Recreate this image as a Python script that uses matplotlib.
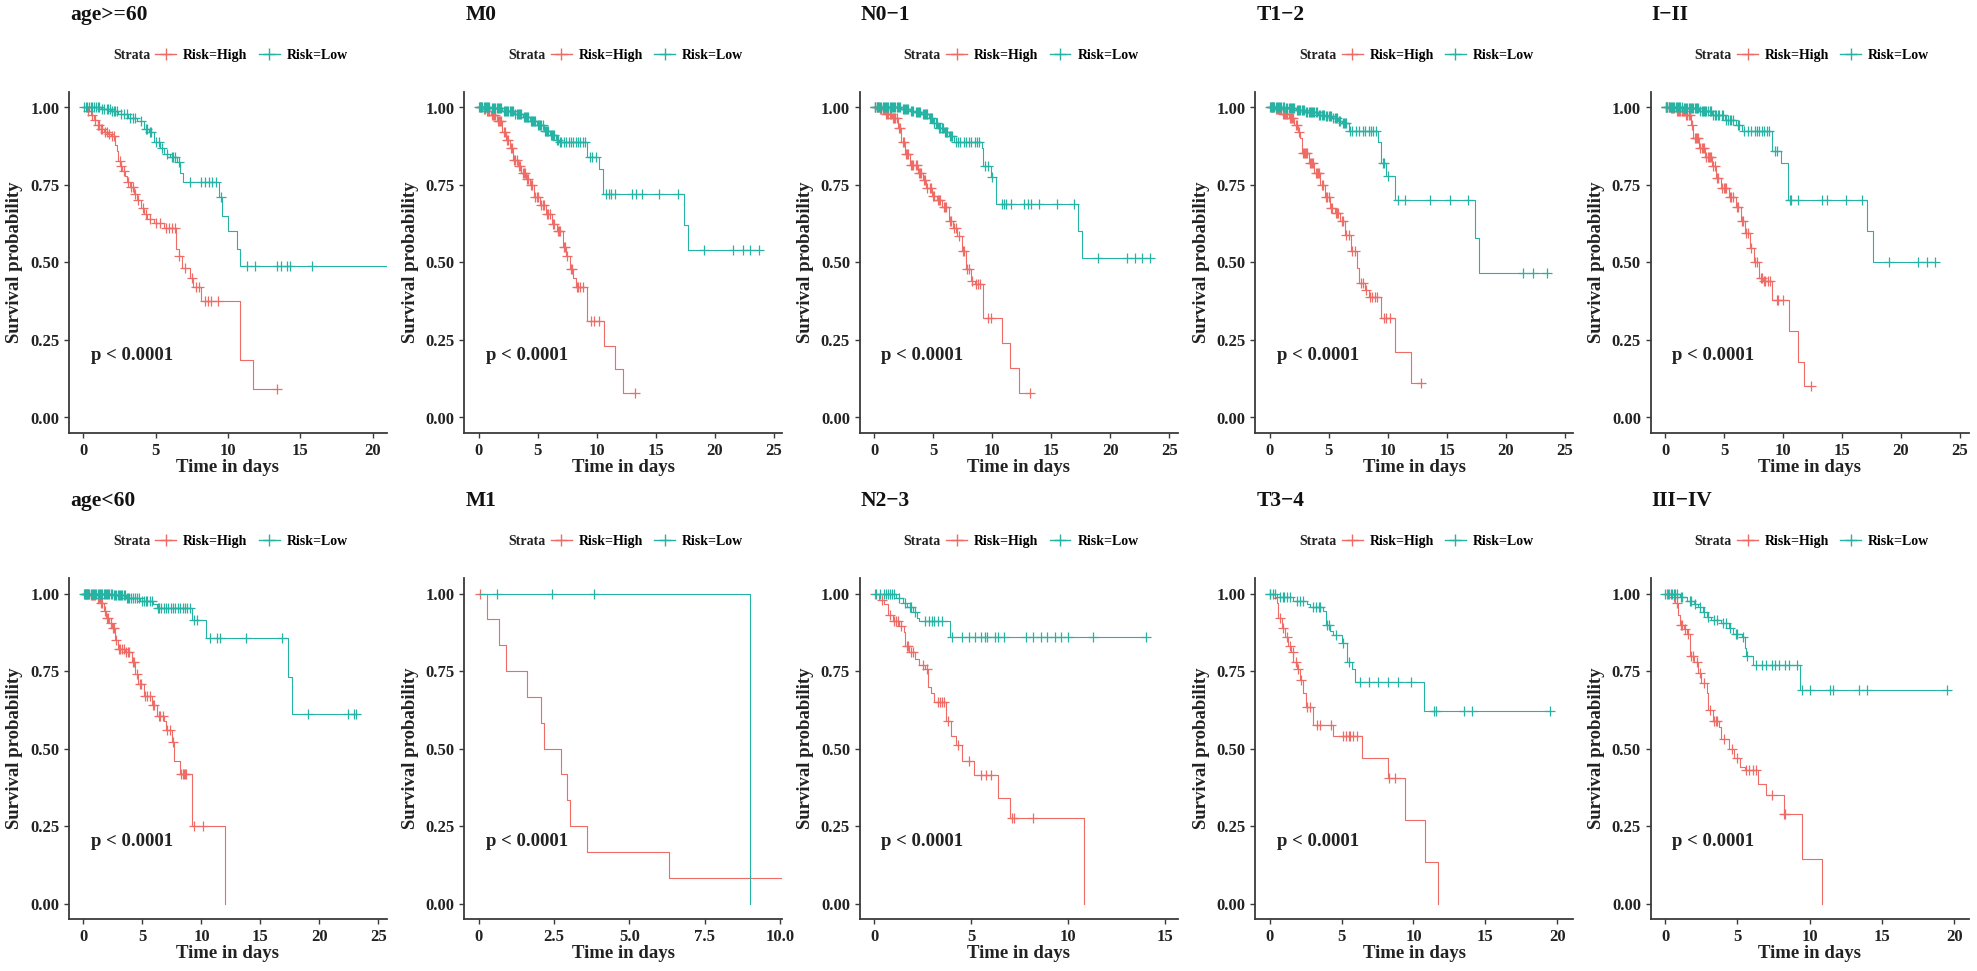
import numpy as np
import matplotlib
matplotlib.use("Agg")
import matplotlib.pyplot as plt
from matplotlib.lines import Line2D
from matplotlib.transforms import blended_transform_factory

plt.rcParams["font.family"] = ["Liberation Serif", "DejaVu Serif"]
plt.rcParams["font.weight"] = "bold"

RED = "#EF6B65"
TEAL = "#27B3A3"

# ---- age>=60
age60_hi_t = [0.3, 0.5, 0.7, 1.0, 1.2, 1.4, 1.7, 1.9, 2.2, 2.3, 2.4, 2.55, 2.7, 2.85, 3.0, 3.2, 3.5, 3.7, 4.0, 4.2,
              4.4, 4.9, 5.6, 6.4, 6.6, 6.8, 7.4, 7.6, 8.1, 10.8, 11.7]
age60_hi_s = [0.99, 0.976, 0.96, 0.944, 0.93, 0.92, 0.915, 0.907, 0.88, 0.86, 0.826, 0.81, 0.794, 0.78, 0.76, 0.745,
              0.72, 0.70, 0.676, 0.655, 0.64, 0.628, 0.61, 0.545, 0.52, 0.483, 0.45, 0.42, 0.375, 0.186, 0.093]
age60_hi_end = 13.4
age60_hi_c = [0.3, 0.6, 0.8, 1.0, 1.1, 1.2, 1.3, 1.5, 1.6, 1.8, 2.0, 2.1, 2.5, 2.6, 2.8, 3.1, 3.3, 3.4, 3.6, 3.8,
              4.1, 4.3, 4.6, 5.0, 5.3, 5.7, 5.9, 6.1, 6.3, 6.6, 7.0, 7.5, 7.8, 8.0, 8.4, 8.6, 8.8, 9.3, 13.4]
age60_lo_t = [1.2, 1.9, 2.4, 3.1, 3.7, 4.2, 4.5, 4.9, 5.3, 5.6, 6.0, 6.5, 6.7, 6.9, 9.4, 9.6, 10.0, 10.6, 10.8]
age60_lo_s = [0.995, 0.99, 0.98, 0.965, 0.957, 0.93, 0.92, 0.89, 0.87, 0.85, 0.84, 0.825, 0.79, 0.76, 0.71, 0.65,
              0.60, 0.545, 0.49]
age60_lo_end = 21.0
age60_lo_c = [0.05, 0.15, 0.25, 0.4, 0.5, 0.6, 0.75, 0.9, 1.0, 1.1, 1.3, 1.45, 1.6, 1.7, 1.85, 2.0, 2.1, 2.2, 2.3,
              2.6, 2.8, 3.0, 3.2, 3.4, 3.6, 4.0, 4.3, 4.4, 4.6, 4.7, 5.0, 5.2, 5.4, 5.8, 6.1, 6.2, 6.3, 6.6, 7.4,
              8.1, 8.4, 8.7, 8.9, 9.2, 9.5, 11.3, 11.9, 13.4, 13.7, 14.1, 14.3, 15.8]

# ---- M0
m0_hi_t = [0.3, 0.6, 1.0, 1.5, 2.0, 2.3, 2.6, 2.9, 3.3, 3.6, 4.0, 4.3, 4.7, 5.2, 5.7, 6.2, 6.6, 7.1, 7.4, 7.7,
           8.0, 8.2, 9.2, 10.6, 11.5, 12.2]
m0_hi_s = [0.995, 0.99, 0.975, 0.955, 0.92, 0.895, 0.87, 0.83, 0.81, 0.79, 0.77, 0.75, 0.71, 0.685, 0.655, 0.625,
           0.60, 0.55, 0.52, 0.48, 0.45, 0.42, 0.31, 0.23, 0.155, 0.08]
m0_hi_end = 13.2
m0_hi_c = [0.1, 0.2, 0.4, 0.5, 0.7, 0.8, 0.9, 1.1, 1.2, 1.3, 1.4, 1.6, 1.7, 1.8, 1.9, 2.1, 2.2, 2.4, 2.5, 2.7, 2.8,
           3.0, 3.1, 3.2, 3.4, 3.5, 3.7, 3.8, 3.9, 4.1, 4.2, 4.4, 4.5, 4.8, 4.9, 5.0, 5.3, 5.4, 5.5, 5.8, 5.9, 6.0,
           6.3, 6.4, 6.7, 6.8, 6.9, 7.2, 7.3, 7.5, 7.8, 7.9, 8.3, 8.4, 8.6, 8.8, 9.5, 9.8, 10.2, 13.2]
m0_lo_t = [1.0, 2.0, 3.0, 3.7, 4.3, 4.9, 5.5, 6.0, 6.5, 6.8, 9.2, 10.2, 10.5, 17.4, 17.7]
m0_lo_s = [0.997, 0.99, 0.98, 0.97, 0.955, 0.945, 0.925, 0.91, 0.895, 0.89, 0.84, 0.80, 0.72, 0.62, 0.54]
m0_lo_end = 23.7
m0_lo_c = [0.05, 0.1, 0.2, 0.3, 0.4, 0.5, 0.6, 0.7, 0.8, 0.9, 1.1, 1.2, 1.3, 1.4, 1.5, 1.6, 1.7, 1.8, 1.9, 2.1,
           2.2, 2.3, 2.4, 2.5, 2.6, 2.7, 2.8, 2.9, 3.1, 3.2, 3.3, 3.4, 3.5, 3.6, 3.8, 3.9, 4.0, 4.1, 4.2, 4.4, 4.5,
           4.6, 4.7, 4.8, 5.0, 5.1, 5.2, 5.3, 5.4, 5.6, 5.7, 5.8, 5.9, 6.1, 6.2, 6.3, 6.4, 6.6, 6.7, 6.9, 7.0, 7.2,
           7.4, 7.6, 7.8, 8.0, 8.2, 8.4, 8.6, 8.8, 9.0, 9.4, 9.6, 9.9, 10.8, 11.0, 11.2, 11.5, 13.0, 13.3, 13.8,
           15.3, 16.9, 19.1, 21.5, 22.4, 23.0, 23.7]

# ---- N0-1
n01_hi_t = [0.4, 0.9, 1.5, 2.0, 2.3, 2.6, 3.0, 3.7, 4.1, 4.4, 4.9, 5.3, 5.7, 6.3, 6.7, 7.0, 7.4, 7.8, 8.2, 8.5,
            9.2, 10.8, 11.5, 12.3]
n01_hi_s = [0.995, 0.98, 0.966, 0.934, 0.89, 0.85, 0.815, 0.79, 0.765, 0.74, 0.714, 0.70, 0.68, 0.633, 0.61, 0.585,
            0.537, 0.478, 0.44, 0.43, 0.32, 0.24, 0.16, 0.08]
n01_hi_end = 13.2
n01_hi_c = [0.1, 0.2, 0.3, 0.5, 0.6, 0.7, 0.8, 1.0, 1.1, 1.2, 1.3, 1.4, 1.6, 1.7, 1.8, 1.9, 2.1, 2.2, 2.4, 2.5,
            2.7, 2.8, 2.9, 3.1, 3.2, 3.3, 3.5, 3.6, 3.8, 3.9, 4.0, 4.2, 4.3, 4.5, 4.7, 4.8, 5.0, 5.1, 5.4, 5.5, 5.6,
            5.9, 6.0, 6.1, 6.4, 6.5, 6.8, 6.9, 7.2, 7.5, 7.6, 7.9, 8.0, 8.3, 8.6, 8.8, 9.0, 9.6, 9.9, 13.2]
n01_lo_t = [2.3, 3.0, 3.4, 4.0, 4.6, 5.0, 5.4, 5.9, 6.3, 6.8, 9.1, 9.2, 9.9, 10.3, 17.3, 17.6]
n01_lo_s = [0.995, 0.99, 0.987, 0.978, 0.966, 0.95, 0.934, 0.92, 0.907, 0.89, 0.87, 0.81, 0.775, 0.69, 0.60, 0.515]
n01_lo_end = 23.4
n01_lo_c = [0.05, 0.1, 0.2, 0.3, 0.4, 0.5, 0.6, 0.7, 0.8, 0.9, 1.0, 1.1, 1.2, 1.3, 1.4, 1.5, 1.6, 1.7, 1.8, 1.9,
            2.0, 2.1, 2.2, 2.4, 2.5, 2.6, 2.7, 2.8, 2.9, 3.1, 3.2, 3.3, 3.5, 3.6, 3.7, 3.8, 3.9, 4.1, 4.2, 4.3, 4.4,
            4.5, 4.7, 4.8, 4.9, 5.1, 5.2, 5.3, 5.5, 5.6, 5.7, 5.8, 6.0, 6.1, 6.2, 6.4, 6.5, 6.6, 6.9, 7.1, 7.3, 7.6,
            7.8, 8.0, 8.2, 8.5, 8.7, 8.9, 9.4, 9.6, 10.0, 10.8, 11.0, 11.2, 11.6, 12.7, 13.0, 13.3, 14.0, 15.5,
            16.9, 19.0, 21.4, 22.1, 22.7, 23.4]

# ---- T1-2
t12_hi_t = [0.4, 1.0, 1.6, 2.1, 2.4, 2.6, 2.7, 3.3, 3.8, 4.3, 4.7, 5.1, 5.5, 6.0, 6.4, 6.9, 7.4, 7.6, 8.1, 8.4,
            9.4, 10.6, 12.0]
t12_hi_s = [0.995, 0.98, 0.966, 0.944, 0.92, 0.90, 0.853, 0.82, 0.79, 0.75, 0.71, 0.676, 0.66, 0.633, 0.59, 0.537,
            0.483, 0.435, 0.41, 0.39, 0.32, 0.21, 0.11]
t12_hi_end = 12.8
t12_hi_c = [0.1, 0.2, 0.3, 0.5, 0.6, 0.7, 0.8, 0.9, 1.1, 1.2, 1.3, 1.4, 1.5, 1.7, 1.8, 1.9, 2.0, 2.2, 2.3, 2.5,
            2.8, 2.9, 3.0, 3.1, 3.2, 3.4, 3.5, 3.6, 3.7, 3.9, 4.0, 4.1, 4.2, 4.4, 4.5, 4.8, 4.9, 5.0, 5.2, 5.3, 5.6,
            5.7, 5.8, 6.1, 6.2, 6.5, 6.7, 7.0, 7.2, 7.7, 7.9, 8.2, 8.5, 8.7, 8.9, 9.1, 9.7, 9.9, 10.2, 12.8]
t12_lo_t = [1.3, 2.2, 3.0, 4.1, 4.7, 5.3, 5.8, 6.1, 6.7, 9.2, 9.4, 9.9, 10.6, 17.4, 17.7]
t12_lo_s = [0.997, 0.992, 0.987, 0.976, 0.972, 0.966, 0.958, 0.95, 0.923, 0.89, 0.82, 0.78, 0.70, 0.58, 0.465]
t12_lo_end = 23.5
t12_lo_c = [0.05, 0.1, 0.2, 0.3, 0.4, 0.5, 0.6, 0.7, 0.8, 0.9, 1.0, 1.1, 1.2, 1.4, 1.5, 1.6, 1.7, 1.8, 1.9, 2.0,
            2.1, 2.3, 2.4, 2.5, 2.6, 2.7, 2.8, 2.9, 3.1, 3.2, 3.3, 3.4, 3.5, 3.6, 3.7, 3.8, 3.9, 4.0, 4.2, 4.3, 4.4,
            4.5, 4.6, 4.8, 4.9, 5.0, 5.1, 5.2, 5.4, 5.5, 5.6, 5.7, 5.9, 6.0, 6.2, 6.3, 6.4, 6.5, 6.8, 7.0, 7.3, 7.6,
            7.9, 8.1, 8.4, 8.6, 8.8, 9.0, 9.6, 9.7, 10.0, 10.9, 11.5, 13.6, 15.3, 16.8, 21.5, 22.3, 23.5]

# ---- I-II
i_hi_t = [0.4, 0.9, 1.7, 2.2, 2.4, 2.9, 3.4, 4.0, 4.3, 4.7, 5.4, 6.0, 6.4, 6.8, 7.2, 7.5, 8.0, 8.3, 9.1, 10.5,
          11.3, 11.8]
i_hi_s = [0.997, 0.99, 0.976, 0.944, 0.90, 0.87, 0.84, 0.81, 0.773, 0.74, 0.71, 0.68, 0.633, 0.596, 0.548, 0.50,
          0.45, 0.44, 0.38, 0.28, 0.18, 0.10]
i_hi_end = 12.4
i_hi_c = [0.1, 0.2, 0.3, 0.5, 0.6, 0.7, 0.8, 1.0, 1.1, 1.2, 1.3, 1.4, 1.5, 1.6, 1.8, 1.9, 2.0, 2.1, 2.3, 2.5, 2.6,
          2.7, 2.8, 3.0, 3.1, 3.2, 3.3, 3.5, 3.6, 3.7, 3.8, 3.9, 4.1, 4.2, 4.4, 4.5, 4.8, 5.0, 5.1, 5.2, 5.5, 5.6,
          5.8, 6.1, 6.2, 6.5, 6.6, 6.9, 7.0, 7.3, 7.6, 7.8, 8.1, 8.2, 8.4, 8.5, 8.7, 8.9, 9.5, 9.6, 10.0, 12.4]
i_lo_t = [1.5, 2.9, 4.0, 5.1, 6.0, 6.5, 9.1, 9.8, 10.4, 17.1, 17.6]
i_lo_s = [0.997, 0.99, 0.976, 0.96, 0.944, 0.923, 0.86, 0.82, 0.70, 0.60, 0.50]
i_lo_end = 22.9
i_lo_c = [0.05, 0.1, 0.2, 0.3, 0.4, 0.5, 0.6, 0.7, 0.8, 0.9, 1.0, 1.1, 1.2, 1.3, 1.4, 1.6, 1.7, 1.8, 1.9, 2.0, 2.1,
          2.2, 2.3, 2.4, 2.5, 2.6, 2.7, 2.8, 3.0, 3.1, 3.2, 3.3, 3.4, 3.5, 3.6, 3.8, 3.9, 4.1, 4.2, 4.3, 4.5, 4.6,
          4.8, 4.9, 5.2, 5.3, 5.5, 5.6, 5.8, 6.2, 6.3, 6.7, 7.0, 7.3, 7.6, 7.8, 8.0, 8.2, 8.4, 8.6, 8.8, 9.3, 9.5,
          10.6, 10.7, 11.3, 13.3, 13.7, 15.3, 16.7, 19.0, 21.4, 22.2, 22.9]

# ---- age<60
agelt_hi_t = [0.5, 1.1, 1.4, 1.7, 1.9, 2.2, 2.4, 2.7, 2.9, 3.5, 4.1, 4.4, 4.6, 5.1, 5.8, 6.2, 6.8, 7.0, 7.5, 7.7,
              8.2, 9.2, 12.0]
agelt_hi_s = [0.995, 0.986, 0.97, 0.945, 0.92, 0.905, 0.89, 0.85, 0.82, 0.81, 0.78, 0.74, 0.707, 0.67, 0.64, 0.605,
              0.59, 0.56, 0.52, 0.46, 0.417, 0.25, 0.0]
agelt_hi_end = 12.0
agelt_hi_c = [0.1, 0.2, 0.3, 0.4, 0.6, 0.7, 0.8, 0.9, 1.0, 1.2, 1.3, 1.5, 1.6, 1.8, 2.0, 2.1, 2.3, 2.5, 2.6, 2.8,
              3.0, 3.1, 3.3, 3.4, 3.6, 3.8, 3.9, 4.2, 4.3, 4.5, 4.8, 4.9, 5.2, 5.4, 5.6, 5.9, 6.0, 6.4, 6.5, 6.7,
              7.1, 7.3, 7.6, 8.3, 8.4, 8.5, 8.6, 8.7, 9.4, 10.1]
agelt_lo_t = [2.5, 3.6, 4.8, 5.9, 6.2, 9.2, 10.4, 17.3, 17.7]
agelt_lo_s = [0.995, 0.986, 0.977, 0.965, 0.954, 0.915, 0.855, 0.73, 0.61]
agelt_lo_end = 23.1
agelt_lo_c = [0.05, 0.1, 0.2, 0.3, 0.4, 0.5, 0.6, 0.7, 0.8, 0.9, 1.0, 1.1, 1.2, 1.3, 1.4, 1.5, 1.6, 1.7, 1.8, 1.9,
              2.0, 2.1, 2.2, 2.3, 2.4, 2.6, 2.7, 2.8, 2.9, 3.0, 3.1, 3.2, 3.3, 3.4, 3.5, 3.7, 3.8, 3.9, 4.0, 4.2,
              4.4, 4.5, 4.7, 5.0, 5.1, 5.3, 5.4, 5.6, 5.8, 6.3, 6.4, 6.6, 6.8, 7.0, 7.2, 7.4, 7.6, 7.8, 8.0, 8.2,
              8.4, 8.6, 8.8, 9.0, 9.4, 9.6, 10.7, 11.3, 11.6, 13.8, 16.8, 19.0, 22.4, 22.9, 23.1]

# ---- M1
m1_hi_t = [0.28, 0.67, 0.89, 1.6, 2.06, 2.17, 2.72, 2.94, 3.02, 3.58, 6.3]
m1_hi_s = [0.917, 0.833, 0.75, 0.667, 0.583, 0.5, 0.417, 0.333, 0.25, 0.167, 0.083]
m1_hi_end = 10.6
m1_hi_c = [0.05]
m1_lo_t = [9.0]
m1_lo_s = [0.0]
m1_lo_end = 9.0
m1_lo_c = [0.61, 2.44, 3.83]

# ---- N2-3
n23_hi_t = [0.26, 0.5, 0.7, 0.95, 1.3, 1.55, 1.6, 1.8, 2.1, 2.3, 2.6, 2.75, 2.9, 3.1, 3.7, 3.95, 4.2, 4.5, 5.15,
            6.4, 7.0, 10.8]
n23_hi_s = [0.98, 0.965, 0.93, 0.91, 0.895, 0.875, 0.83, 0.81, 0.79, 0.77, 0.755, 0.70, 0.68, 0.65, 0.59, 0.54,
            0.51, 0.46, 0.415, 0.34, 0.275, 0.0]
n23_hi_end = 10.8
n23_hi_c = [0.05, 0.4, 0.8, 1.0, 1.1, 1.2, 1.4, 1.7, 1.75, 1.9, 2.0, 2.5, 2.7, 3.3, 3.4, 3.5, 3.6, 3.8, 4.3, 4.9,
            5.5, 5.75, 6.0, 7.1, 7.2, 8.2]
n23_lo_t = [1.1, 1.5, 1.7, 2.0, 2.2, 2.3, 3.9]
n23_lo_s = [0.985, 0.97, 0.955, 0.94, 0.92, 0.91, 0.86]
n23_lo_end = 14.0
n23_lo_c = [0.1, 0.3, 0.5, 0.6, 0.7, 0.8, 0.9, 1.0, 1.3, 1.6, 1.85, 1.9, 2.1, 2.6, 2.8, 3.0, 3.1, 3.3, 3.5, 4.0,
            4.5, 4.9, 5.2, 5.5, 5.7, 5.8, 6.2, 6.4, 6.7, 7.8, 8.2, 8.6, 8.9, 9.3, 9.6, 10.0, 11.3, 14.0]

# ---- T3-4
t34_hi_t = [0.25, 0.5, 0.6, 0.85, 1.07, 1.3, 1.5, 1.65, 1.9, 2.1, 2.35, 2.5, 3.0, 4.4, 6.4, 8.2, 9.4, 10.8, 11.7]
t34_hi_s = [0.985, 0.97, 0.92, 0.89, 0.86, 0.83, 0.81, 0.78, 0.755, 0.72, 0.68, 0.635, 0.575, 0.54, 0.47, 0.405,
            0.27, 0.135, 0.0]
t34_hi_end = 11.7
t34_hi_c = [0.0, 0.7, 0.9, 1.2, 1.4, 1.6, 1.8, 2.0, 2.2, 2.6, 2.8, 3.3, 3.5, 4.3, 5.1, 5.3, 5.5, 5.6, 5.8, 6.1,
            8.3, 8.7]
t34_lo_t = [0.5, 1.6, 2.6, 2.8, 3.7, 3.9, 4.2, 4.4, 5.0, 5.4, 5.7, 5.9, 10.7]
t34_lo_s = [0.99, 0.975, 0.965, 0.955, 0.945, 0.90, 0.88, 0.865, 0.84, 0.78, 0.755, 0.715, 0.62]
t34_lo_end = 19.5
t34_lo_c = [0.0, 0.2, 0.4, 0.7, 0.9, 1.0, 1.2, 1.4, 1.9, 2.1, 2.3, 3.0, 3.2, 3.4, 3.5, 4.0, 4.1, 4.6, 5.1, 5.5,
            6.3, 6.9, 7.5, 8.2, 8.9, 9.8, 11.4, 11.6, 13.5, 14.1, 19.5]

# ---- III-IV
iii_hi_t = [0.45, 0.7, 0.9, 1.0, 1.3, 1.5, 1.7, 2.0, 2.3, 2.5, 2.9, 3.0, 3.3, 3.7, 3.9, 4.4, 4.8, 5.2, 5.5, 6.4,
            7.0, 8.2, 9.5, 10.85]
iii_hi_s = [0.99, 0.97, 0.93, 0.90, 0.885, 0.87, 0.80, 0.78, 0.745, 0.71, 0.68, 0.625, 0.59, 0.57, 0.53, 0.50,
            0.47, 0.44, 0.43, 0.385, 0.35, 0.29, 0.145, 0.0]
iii_hi_end = 10.85
iii_hi_c = [0.1, 0.3, 0.6, 0.8, 1.1, 1.2, 1.4, 1.6, 1.8, 1.9, 2.2, 2.4, 2.7, 3.1, 3.4, 3.5, 3.6, 4.1, 4.6, 5.0,
            5.6, 5.8, 6.1, 6.3, 7.4, 8.2, 8.3]
iii_lo_t = [1.0, 1.5, 2.0, 2.3, 2.6, 2.9, 3.2, 3.9, 4.4, 4.7, 5.3, 5.5, 5.6, 6.1, 9.35]
iii_lo_s = [0.99, 0.975, 0.965, 0.955, 0.94, 0.925, 0.915, 0.905, 0.89, 0.87, 0.86, 0.825, 0.80, 0.77, 0.69]
iii_lo_end = 19.5
iii_lo_c = [0.0, 0.2, 0.4, 0.5, 0.6, 0.7, 0.8, 1.1, 1.2, 1.7, 1.8, 2.1, 2.4, 2.7, 3.0, 3.4, 3.6, 4.0, 4.2, 4.5,
            4.9, 5.0, 5.4, 5.7, 6.3, 6.7, 7.0, 7.4, 7.6, 7.9, 8.3, 8.6, 9.1, 9.5, 10.0, 11.4, 11.6, 13.4, 14.0, 19.5]

titles = ["age>=60", "M0", "N0\u22121", "T1\u22122", "I\u2212II",
          "age<60", "M1", "N2\u22123", "T3\u22124", "III\u2212IV"]
time_max = [20, 24.5, 24.5, 24.5, 24.5, 24.5, 9.6, 14.9, 20.1, 20]
ticks_25 = [0, 5, 10, 15, 20, 25]
ticks_20 = [0, 5, 10, 15, 20]
ticks_15 = [0, 5, 10, 15]
ticks_m1 = [0, 2.5, 5, 7.5, 10]
labels_m1 = ["0", "2.5", "5.0", "7.5", "10.0"]
y_ticks = [0, 0.25, 0.5, 0.75, 1.0]

high = [
    (age60_hi_t, age60_hi_s, age60_hi_end, age60_hi_c),
    (m0_hi_t, m0_hi_s, m0_hi_end, m0_hi_c),
    (n01_hi_t, n01_hi_s, n01_hi_end, n01_hi_c),
    (t12_hi_t, t12_hi_s, t12_hi_end, t12_hi_c),
    (i_hi_t, i_hi_s, i_hi_end, i_hi_c),
    (agelt_hi_t, agelt_hi_s, agelt_hi_end, agelt_hi_c),
    (m1_hi_t, m1_hi_s, m1_hi_end, m1_hi_c),
    (n23_hi_t, n23_hi_s, n23_hi_end, n23_hi_c),
    (t34_hi_t, t34_hi_s, t34_hi_end, t34_hi_c),
    (iii_hi_t, iii_hi_s, iii_hi_end, iii_hi_c),
]
low = [
    (age60_lo_t, age60_lo_s, age60_lo_end, age60_lo_c),
    (m0_lo_t, m0_lo_s, m0_lo_end, m0_lo_c),
    (n01_lo_t, n01_lo_s, n01_lo_end, n01_lo_c),
    (t12_lo_t, t12_lo_s, t12_lo_end, t12_lo_c),
    (i_lo_t, i_lo_s, i_lo_end, i_lo_c),
    (agelt_lo_t, agelt_lo_s, agelt_lo_end, agelt_lo_c),
    (m1_lo_t, m1_lo_s, m1_lo_end, m1_lo_c),
    (n23_lo_t, n23_lo_s, n23_lo_end, n23_lo_c),
    (t34_lo_t, t34_lo_s, t34_lo_end, t34_lo_c),
    (iii_lo_t, iii_lo_s, iii_lo_end, iii_lo_c),
]
x_ticks = [ticks_20, ticks_25, ticks_25, ticks_25, ticks_25, ticks_25, ticks_m1, ticks_15, ticks_20, ticks_20]


def draw_km(ax, series, color):
    t, s, end, cens = series
    xs = [0.0] + list(t) + [end]
    ys = [1.0] + list(s) + [s[-1]]
    ax.step(xs, ys, where="post", color=color, lw=0.8)
    steps_t = np.array([0.0] + list(t))
    steps_s = np.array([1.0] + list(s))
    idx = np.searchsorted(steps_t, np.array(cens), side="right") - 1
    ax.plot(cens, steps_s[idx], ls="none", marker="+", ms=7, mew=0.9, color=color)


W, H = 1977, 971
fig = plt.figure(figsize=(W / 100, H / 100), dpi=100)

for i in range(10):
    r, c = divmod(i, 5)
    left = (c * 395.4 + 69) / W
    bottom = 1 - (433 + r * 486) / H
    ax = fig.add_axes([left, bottom, 318 / W, 341 / H])

    draw_km(ax, high[i], RED)
    draw_km(ax, low[i], TEAL)

    X = time_max[i]
    ax.set_xlim(-0.05 * X, 1.05 * X)
    ax.set_ylim(-0.05, 1.05)
    ax.set_xticks(x_ticks[i])
    if i == 6:
        ax.set_xticklabels(labels_m1)
    ax.set_yticks(y_ticks)
    ax.set_yticklabels(["%.2f" % v for v in y_ticks])

    for side in ["top", "right"]:
        ax.spines[side].set_visible(False)
    for side in ["left", "bottom"]:
        ax.spines[side].set_color("#3a3a3a")
        ax.spines[side].set_linewidth(1.3)
    ax.tick_params(direction="out", length=3.5, width=1, colors="#3a3a3a", labelsize=12,
                   labelcolor="#222222")
    for lab in ax.get_xticklabels() + ax.get_yticklabels():
        lab.set_fontweight("bold")

    ax.text(0.5, -34 / 341, "Time in days", transform=ax.transAxes, ha="center", va="center",
            fontsize=13.5, fontweight="bold", color="#222222")
    ax.text(-54 / 318, 0.5, "Survival probability", transform=ax.transAxes, ha="center",
            va="center", rotation=90, fontsize=13.5, fontweight="bold", color="#222222")
    ax.text(0.003, 1 + 77 / 341, titles[i], transform=ax.transAxes, ha="left", va="center",
            fontsize=15.5, fontweight="bold", color="#111111")

    trans = blended_transform_factory(ax.transAxes, ax.transData)
    ax.text(0.068, 0.2, "p < 0.0001", transform=trans, ha="left", va="center",
            fontsize=13.5, fontweight="bold", color="#222222")

    # legend row: "Strata" + two keys
    ax.text(0.255, 1 + 37 / 341, "Strata", transform=ax.transAxes, ha="right", va="center",
            fontsize=10, fontweight="bold", color="#222222")
    handles = [Line2D([], [], color=RED, lw=1, marker="+", ms=8, mew=1, label="Risk=High"),
               Line2D([], [], color=TEAL, lw=1, marker="+", ms=8, mew=1, label="Risk=Low")]
    leg = ax.legend(handles=handles, ncol=2, loc="center left", bbox_to_anchor=(0.272, 1 + 37 / 341),
                    frameon=False, borderpad=0, borderaxespad=0, handlelength=1.5,
                    handletextpad=0.5, columnspacing=0.8,
                    prop={"size": 10, "weight": "bold"})

fig.savefig("out.png", dpi=100)
